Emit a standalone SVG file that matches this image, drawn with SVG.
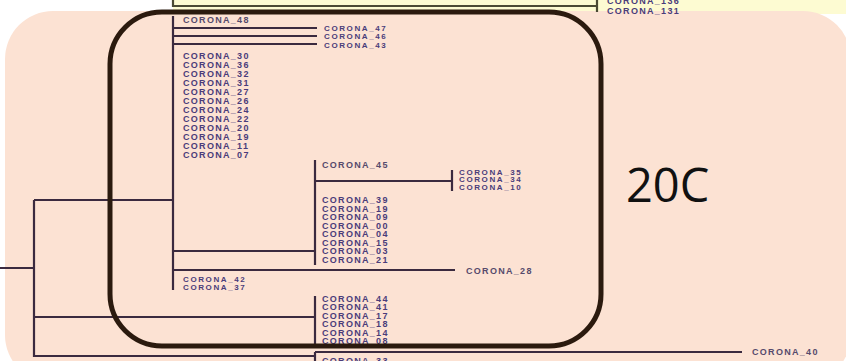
<svg xmlns="http://www.w3.org/2000/svg" width="846" height="361" viewBox="0 0 846 361">
<style>
.t{stroke:#3b2a3f;stroke-width:2.2;fill:none}
.lb{font-family:"Liberation Sans",Arial,sans-serif;font-weight:bold;font-size:9px;letter-spacing:1.3px;fill:#4a3c7a}
.sm{font-size:8px;letter-spacing:1.6px}
.lg{fill:#564a6c}
</style>
<rect x="0" y="0" width="846" height="361" fill="#ffffff"/>
<rect x="173" y="0" width="673" height="14" fill="#fdfbd2"/>
<rect x="5" y="11" width="846" height="372" rx="48" fill="#fce2d3"/>
<g id="yellow-clade">
<path d="M173,0V6H597M597,0V12" stroke="#4b4a34" stroke-width="2.2" fill="none"/>
<text class="lb" x="607" y="4">CORONA_136</text>
<text class="lb" x="607" y="14">CORONA_131</text>
</g>
<g id="connectors">
<path class="t" d="M0,268H34M34,200V357M34,200H173M173,16V290M173,28H317M173,36H317M173,44H317M173,251H315M315,160V265M315,181H452M452,170V191M173,270H455M34,317H315M315,296V346M34,356H315M315,352V361M315,352H742"/>
</g>
<g id="n48"><text class="lb lg" x="183" y="23">CORONA_48</text></g>
<g id="n47"><text class="lb sm" x="324" y="31">CORONA_47</text></g>
<g id="n46"><text class="lb sm" x="324" y="39">CORONA_46</text></g>
<g id="n43"><text class="lb sm" x="324" y="47.5">CORONA_43</text></g>
<g id="group-a">
<text class="lb" x="183" y="58.5">CORONA_30</text>
<text class="lb" x="183" y="67.5">CORONA_36</text>
<text class="lb" x="183" y="76.5">CORONA_32</text>
<text class="lb" x="183" y="85.5">CORONA_31</text>
<text class="lb" x="183" y="94.5">CORONA_27</text>
<text class="lb" x="183" y="103.5">CORONA_26</text>
<text class="lb" x="183" y="112.5">CORONA_24</text>
<text class="lb" x="183" y="121.5">CORONA_22</text>
<text class="lb" x="183" y="130.5">CORONA_20</text>
<text class="lb" x="183" y="139.5">CORONA_19</text>
<text class="lb" x="183" y="148.5">CORONA_11</text>
<text class="lb" x="183" y="157.5">CORONA_07</text>
</g>
<g id="n45"><text class="lb lg" x="322" y="168">CORONA_45</text></g>
<g id="group-b">
<text class="lb sm" x="459" y="174.5">CORONA_35</text>
<text class="lb sm" x="459" y="182">CORONA_34</text>
<text class="lb sm" x="459" y="189.5">CORONA_10</text>
</g>
<g id="group-c">
<text class="lb" x="322" y="203">CORONA_39</text>
<text class="lb" x="322" y="211.5">CORONA_19</text>
<text class="lb" x="322" y="220">CORONA_09</text>
<text class="lb" x="322" y="228.5">CORONA_00</text>
<text class="lb" x="322" y="237">CORONA_04</text>
<text class="lb" x="322" y="245.5">CORONA_15</text>
<text class="lb" x="322" y="254">CORONA_03</text>
<text class="lb" x="322" y="262.5">CORONA_21</text>
</g>
<g id="n28"><text class="lb lg" x="466" y="274">CORONA_28</text></g>
<g id="group-d">
<text class="lb sm" x="183" y="282">CORONA_42</text>
<text class="lb sm" x="183" y="290">CORONA_37</text>
</g>
<g id="group-e">
<text class="lb" x="322" y="301.5">CORONA_44</text>
<text class="lb" x="322" y="310">CORONA_41</text>
<text class="lb" x="322" y="318.5">CORONA_17</text>
<text class="lb" x="322" y="327">CORONA_18</text>
<text class="lb" x="322" y="335.5">CORONA_14</text>
<text class="lb" x="322" y="344">CORONA_08</text>
</g>
<g id="n33"><text class="lb" x="322" y="364">CORONA_33</text></g>
<g id="n40"><text class="lb lg" x="752" y="355">CORONA_40</text></g>
<g id="clade-20C">
<rect x="110" y="12" width="491" height="334" rx="52" fill="none" stroke="#2b1a0e" stroke-width="5"/>
<text x="626" y="202" font-family="Open Sans, Liberation Sans, sans-serif" font-size="47" fill="#111111">20C</text>
</g>
</svg>
